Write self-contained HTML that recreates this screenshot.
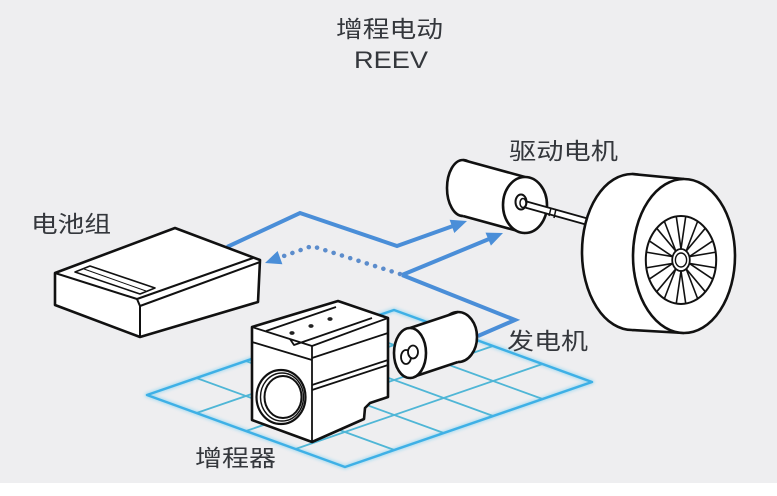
<!DOCTYPE html>
<html>
<head>
<meta charset="utf-8">
<style>
html,body{margin:0;padding:0;background:#fff;}
svg{display:block;}
text{font-family:"Liberation Sans","Noto Sans CJK SC",sans-serif;fill:#34373c;}
</style>
</head>
<body>
<svg width="777" height="496" viewBox="0 0 777 496" xmlns="http://www.w3.org/2000/svg">
  <defs>
    <filter id="glow" x="-10%" y="-10%" width="120%" height="120%">
      <feGaussianBlur stdDeviation="1.6"/>
    </filter>
    <line id="sp" x1="0" y1="-11" x2="0" y2="-44"/>
  </defs>
  <!-- background -->
  <rect x="0" y="0" width="777" height="483" fill="#eeeef0"/>
  <rect x="0" y="483" width="777" height="13" fill="#ffffff"/>

  <!-- grid -->
  <g fill="none" stroke-linejoin="round" stroke-linecap="round">
    <g stroke="#7fd0f0" stroke-width="4.5" opacity="0.6" filter="url(#glow)">
      <polygon points="147,395 345,467 592,382 394,310"/>
    </g>
    <g stroke="#4fb6d6" stroke-width="1.8">
      <line x1="196.5" y1="413" x2="443.5" y2="328"/>
      <line x1="246" y1="431" x2="493" y2="346"/>
      <line x1="295.5" y1="449" x2="542.5" y2="364"/>
      <line x1="196.4" y1="378" x2="394.4" y2="450"/>
      <line x1="245.8" y1="361" x2="443.8" y2="433"/>
      <line x1="295.2" y1="344" x2="493.2" y2="416"/>
      <line x1="344.6" y1="327" x2="542.6" y2="399"/>
    </g>
    <polygon points="147,395 345,467 592,382 394,310" stroke="#3eb0e6" stroke-width="2.5"/>
  </g>

  <!-- blue connectors -->
  <g fill="none" stroke="#4a8ed8" stroke-width="4" stroke-linejoin="miter">
    <polyline points="227,247 300,213 397,246 453,226"/>
    <polyline points="402,275 489,239"/>
    <polyline points="402,275 515,320 478,336"/>
  </g>
  <g fill="#4a8ed8">
    <polygon points="467,221 454.3,233 449.6,219.8"/>
    <polygon points="503,233 490.9,245.6 485.5,232.6"/>
  </g>
  <polyline points="400,274 312,246 281,257" fill="none" stroke="#5b8ccc" stroke-width="4.5" stroke-linecap="round" stroke-dasharray="0.1 8.6"/>
  <polygon points="265,263 282.4,264.2 277.6,251" fill="#4a8ed8"/>

  <!-- battery -->
  <g stroke="#111" stroke-width="2.6" stroke-linejoin="round" fill="#fff">
    <polygon points="55,273 175,228 260,260 258,302 140,337 55,305"/>
  </g>
  <g stroke="#111" stroke-width="2" fill="none" stroke-linejoin="round">
    <polyline points="55,273 137,299 253,258"/>
    <polyline points="137,299 140,306 260,262"/>
    <line x1="140" y1="306" x2="140" y2="337"/>
    <polygon points="75,272 90,266 155,288 140,294" stroke-width="1.6"/>
    <line x1="84" y1="269" x2="146" y2="291" stroke-width="1"/>
  </g>

  <!-- engine (range extender) -->
  <g stroke="#111" stroke-width="2.6" stroke-linejoin="round" fill="#fff">
    <polygon points="252,327 338,301 388,318 388,397 370,403 365,408 364,419 312,442 252,420"/>
  </g>
  <g stroke="#111" stroke-width="1.8" fill="none" stroke-linejoin="round">
    <polyline points="252,327 312,346 388,318"/>
    <line x1="312" y1="346" x2="312" y2="442"/>
    <line x1="252" y1="342" x2="312" y2="360"/>
    <line x1="312" y1="358" x2="388" y2="333"/>
    <line x1="312" y1="385" x2="388" y2="360"/>
    <line x1="312" y1="390" x2="388" y2="365"/>
    <polyline points="266,331 336,307"/>
    <polyline points="290,339 294,345 372,318"/>
  </g>
  <g fill="#222">
    <ellipse cx="292" cy="333" rx="2.6" ry="1.9"/>
    <ellipse cx="311" cy="326" rx="2.6" ry="1.9"/>
    <ellipse cx="330" cy="319" rx="2.6" ry="1.9"/>
  </g>
  <g stroke="#111" fill="#fff">
    <ellipse cx="281" cy="397" rx="24.5" ry="27" stroke-width="2.2"/>
    <ellipse cx="282" cy="397" rx="21.5" ry="24" stroke-width="1.4"/>
    <ellipse cx="283" cy="397" rx="18.5" ry="21" stroke-width="2"/>
  </g>

  <!-- generator -->
  <g stroke="#111" stroke-width="2.6" fill="#fff" stroke-linejoin="round">
    <ellipse cx="458" cy="337" rx="19" ry="25"/>
    <polygon points="410,328 458,312 458,362 410,378" stroke="none"/>
    <line x1="410" y1="328" x2="458" y2="312"/>
    <line x1="410" y1="378" x2="458" y2="362"/>
    <ellipse cx="410" cy="353" rx="16" ry="25"/>
  </g>
  <g stroke="#111" stroke-width="1.8" fill="#fff">
    <ellipse cx="406" cy="357" rx="5" ry="7"/>
    <ellipse cx="413" cy="352" rx="5" ry="6.5"/>
  </g>

  <!-- drive motor -->
  <g stroke="#111" stroke-width="2.6" fill="#fff" stroke-linejoin="round">
    <ellipse cx="463" cy="188" rx="16" ry="28"/>
    <polygon points="463,160 525,177 525,233 463,216" stroke="none"/>
    <line x1="463" y1="160" x2="525" y2="177"/>
    <line x1="463" y1="216" x2="525" y2="233"/>
    <ellipse cx="525" cy="205" rx="22" ry="28"/>
  </g>
  <!-- shaft -->
  <line x1="524" y1="204" x2="592" y2="223" stroke="#111" stroke-width="8" stroke-linecap="butt"/>
  <line x1="524" y1="204" x2="592" y2="223" stroke="#fff" stroke-width="4.5" stroke-linecap="butt"/>
  <line x1="551" y1="208" x2="549" y2="216" stroke="#111" stroke-width="1.5"/>
  <line x1="556" y1="209" x2="554" y2="218" stroke="#111" stroke-width="1.5"/>
  <g stroke="#111" fill="#fff">
    <ellipse cx="521" cy="202" rx="5.5" ry="7.5" stroke-width="2"/>
    <ellipse cx="523" cy="203" rx="3" ry="4.5" stroke-width="1.5"/>
  </g>

  <!-- wheel -->
  <g stroke="#111" stroke-width="2.6" fill="#fff" stroke-linejoin="round">
    <ellipse cx="632" cy="252" rx="50" ry="78"/>
    <polygon points="632,174 684,179 684,333 632,330" stroke="none"/>
    <line x1="632" y1="174" x2="684" y2="179"/>
    <line x1="632" y1="330" x2="684" y2="333"/>
    <ellipse cx="684" cy="256" rx="51" ry="77"/>
  </g>
  <g transform="translate(681,260) scale(0.8,1)" stroke="#111" fill="none">
    <circle r="44" stroke-width="2" vector-effect="non-scaling-stroke"/>
    <g stroke-width="1.6">
      <line x1="0" y1="-11" x2="-6" y2="-44" transform="rotate(0)" vector-effect="non-scaling-stroke"/>
      <line x1="0" y1="-11" x2="6" y2="-44" transform="rotate(0)" vector-effect="non-scaling-stroke"/>
      <line x1="0" y1="-11" x2="-6" y2="-44" transform="rotate(36)" vector-effect="non-scaling-stroke"/>
      <line x1="0" y1="-11" x2="6" y2="-44" transform="rotate(36)" vector-effect="non-scaling-stroke"/>
      <line x1="0" y1="-11" x2="-6" y2="-44" transform="rotate(72)" vector-effect="non-scaling-stroke"/>
      <line x1="0" y1="-11" x2="6" y2="-44" transform="rotate(72)" vector-effect="non-scaling-stroke"/>
      <line x1="0" y1="-11" x2="-6" y2="-44" transform="rotate(108)" vector-effect="non-scaling-stroke"/>
      <line x1="0" y1="-11" x2="6" y2="-44" transform="rotate(108)" vector-effect="non-scaling-stroke"/>
      <line x1="0" y1="-11" x2="-6" y2="-44" transform="rotate(144)" vector-effect="non-scaling-stroke"/>
      <line x1="0" y1="-11" x2="6" y2="-44" transform="rotate(144)" vector-effect="non-scaling-stroke"/>
      <line x1="0" y1="-11" x2="-6" y2="-44" transform="rotate(180)" vector-effect="non-scaling-stroke"/>
      <line x1="0" y1="-11" x2="6" y2="-44" transform="rotate(180)" vector-effect="non-scaling-stroke"/>
      <line x1="0" y1="-11" x2="-6" y2="-44" transform="rotate(216)" vector-effect="non-scaling-stroke"/>
      <line x1="0" y1="-11" x2="6" y2="-44" transform="rotate(216)" vector-effect="non-scaling-stroke"/>
      <line x1="0" y1="-11" x2="-6" y2="-44" transform="rotate(252)" vector-effect="non-scaling-stroke"/>
      <line x1="0" y1="-11" x2="6" y2="-44" transform="rotate(252)" vector-effect="non-scaling-stroke"/>
      <line x1="0" y1="-11" x2="-6" y2="-44" transform="rotate(288)" vector-effect="non-scaling-stroke"/>
      <line x1="0" y1="-11" x2="6" y2="-44" transform="rotate(288)" vector-effect="non-scaling-stroke"/>
      <line x1="0" y1="-11" x2="-6" y2="-44" transform="rotate(324)" vector-effect="non-scaling-stroke"/>
      <line x1="0" y1="-11" x2="6" y2="-44" transform="rotate(324)" vector-effect="non-scaling-stroke"/>
    </g>
    <circle r="11" fill="#fff" stroke-width="1.8" vector-effect="non-scaling-stroke"/>
    <circle r="7" stroke-width="1.4" vector-effect="non-scaling-stroke"/>
  </g>

  <!-- labels -->
  <text x="336" y="37" font-size="23" textLength="107" lengthAdjust="spacingAndGlyphs">增程电动</text>
  <text x="354" y="68" font-size="24" textLength="74" lengthAdjust="spacingAndGlyphs">REEV</text>
  <text x="31" y="232" font-size="23" textLength="80" lengthAdjust="spacingAndGlyphs">电池组</text>
  <text x="509" y="159" font-size="23" textLength="109" lengthAdjust="spacingAndGlyphs">驱动电机</text>
  <text x="507" y="349" font-size="23" textLength="81" lengthAdjust="spacingAndGlyphs">发电机</text>
  <text x="195" y="466" font-size="23" textLength="81" lengthAdjust="spacingAndGlyphs">增程器</text>
</svg>
</body>
</html>
